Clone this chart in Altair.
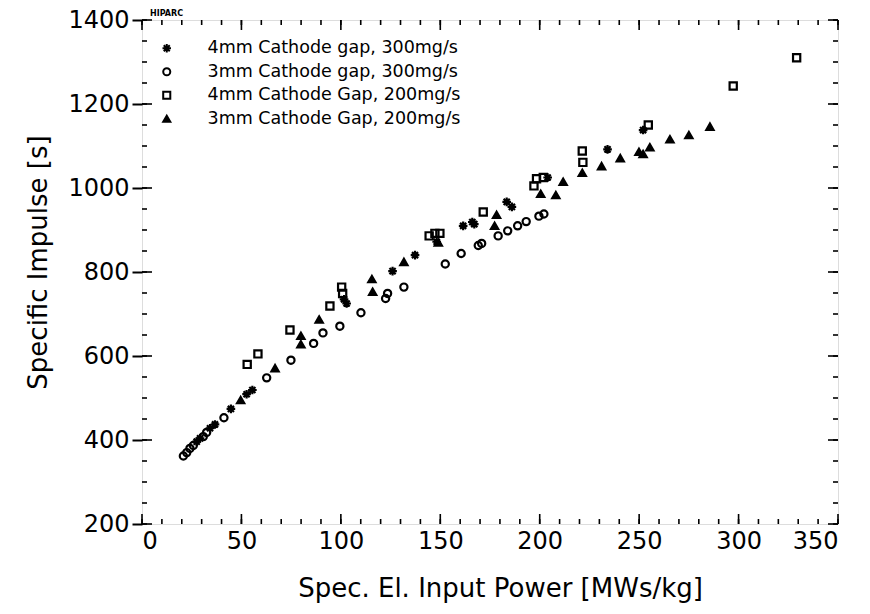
import altair as alt
import pandas as pd

S1 = "4mm Cathode gap, 300mg/s"
S2 = "3mm Cathode gap, 300mg/s"
S3 = "4mm Cathode Gap, 200mg/s"
S4 = "3mm Cathode Gap, 200mg/s"
series_names = [S1, S2, S3, S4]

ast_x = [27.5, 29.2, 34.2, 36.7, 44.7, 52.6, 55.5, 101.6, 102.9, 126.0, 137.3, 148.2, 161.5, 166.1, 167.1, 183.4, 186.0, 204.0, 234.1, 252.0]
ast_y = [396, 404, 428, 437, 474, 509, 519, 735, 725, 802, 840, 872, 910, 919, 914, 967, 955, 1025, 1092, 1138]

circ_x = [20.8, 22.5, 24.1, 25.8, 30.8, 32.5, 41.2, 62.7, 74.9, 86.3, 91.0, 99.5, 110.1, 122.5, 123.5, 131.7, 152.5, 160.5, 169.1, 170.8, 179.1, 183.9, 188.9, 193.2, 199.6, 202.1]
circ_y = [362, 370, 380, 387, 408, 418, 453, 548, 590, 630, 655, 671, 703, 737, 749, 764, 819, 844, 863, 868, 886, 898, 910, 920, 933, 938]

sq_x = [52.9, 58.3, 74.4, 94.5, 100.4, 100.9, 144.4, 147.3, 149.8, 171.6, 197.1, 198.4, 201.8, 221.4, 221.7, 254.6, 297.3, 329.2]
sq_y = [580, 605, 662, 719, 764, 749, 886, 892, 892, 943, 1005, 1022, 1025, 1088, 1061, 1150, 1243, 1310]

tri_x = [49.6, 66.9, 79.9, 79.9, 89.1, 115.6, 116.0, 131.7, 149.0, 177.3, 178.3, 200.5, 208.1, 211.8, 221.4, 231.1, 240.5, 249.9, 252.0, 255.4, 265.5, 275.0, 285.6]
tri_y = [495, 571, 628, 648, 687, 783, 753, 824, 870, 910, 936, 986, 983, 1015, 1036, 1052, 1071, 1086, 1081, 1097, 1116, 1126, 1146]

x_major = list(range(0, 351, 50))
x_minor = list(range(0, 351, 10))
y_major = list(range(200, 1401, 200))
y_minor = list(range(200, 1401, 50))

corner_label = ["HIPARC"]

rows = []
for name, xs_, ys_ in [(S1, ast_x, ast_y), (S2, circ_x, circ_y), (S3, sq_x, sq_y), (S4, tri_x, tri_y)]:
    for a, b in zip(xs_, ys_):
        rows.append({"series": name, "power": a, "isp": b})
df = pd.DataFrame(rows)

W, H = 696, 504
FONT = "DejaVu Sans"
xs = alt.Scale(domain=[0, 350], nice=False, zero=False)
ys = alt.Scale(domain=[200, 1400], nice=False, zero=False)

x_axis = alt.Axis(
    title="Spec. El. Input Power [MWs/kg]", values=x_major, format="d", ticks=False, domain=False, grid=False,
    labelFont=FONT, labelFontSize=24, labelColor="black", labelPadding=5,
    titleFont=FONT, titleFontSize=26, titleFontWeight="normal", titleColor="black",
    titleX=358, titleY=72, titleBaseline="alphabetic")
y_axis = alt.Axis(
    title="Specific Impulse [s]", values=y_major, format="d", ticks=True, tickSize=10, tickWidth=2, tickColor="black",
    domain=False, grid=False,
    labelFont=FONT, labelFontSize=24, labelColor="black", labelPadding=3,
    titleFont=FONT, titleFontSize=26, titleFontWeight="normal", titleColor="black",
    titleX=-96, titleY=242, titleBaseline="alphabetic")

asterisk = "M-1.2,0L1.2,0M0,-1.2L0,1.2M-0.85,-0.85L0.85,0.85M-0.85,0.85L0.85,-0.85"

leg = alt.Legend(title=None, orient="none", legendX=16, legendY=19.5, padding=0,
                 labelFont=FONT, labelFontSize=17.5, labelColor="black", labelOffset=32, labelLimit=500,
                 rowPadding=4.5, symbolSize=50, symbolStrokeWidth=2)

points = alt.Chart(df).mark_point(filled=True, strokeWidth=2.2, size=52, opacity=1).encode(
    x=alt.X("power:Q", scale=xs, axis=x_axis),
    y=alt.Y("isp:Q", scale=ys, axis=y_axis),
    shape=alt.Shape("series:N", scale=alt.Scale(domain=series_names, range=[asterisk, "circle", "square", "triangle-up"]),
                    legend=leg),
    fill=alt.Fill("series:N", scale=alt.Scale(domain=series_names, range=["black", "transparent", "transparent", "black"]),
                  legend=leg),
    stroke=alt.Stroke("series:N", scale=alt.Scale(domain=series_names, range=["black", "black", "black", "black"]),
                      legend=leg),
)

dxmin = pd.DataFrame({"v": x_minor})
dxmaj = pd.DataFrame({"v": x_major})
dymin = pd.DataFrame({"v": y_minor})
dymaj = pd.DataFrame({"v": y_major})

def xticks(d, length, top):
    if top:
        enc = dict(y=alt.value(0), y2=alt.value(length))
    else:
        enc = dict(y=alt.value(H), y2=alt.value(H - length))
    return alt.Chart(d).mark_rule(color="black", strokeWidth=1.6).encode(
        x=alt.X("v:Q", scale=xs, axis=x_axis), **enc)

def yticks(d, length, right):
    if right:
        enc = dict(x=alt.value(W), x2=alt.value(W - length))
    else:
        enc = dict(x=alt.value(0), x2=alt.value(length))
    return alt.Chart(d).mark_rule(color="black", strokeWidth=1.6).encode(
        y=alt.Y("v:Q", scale=ys, axis=y_axis), **enc)

ticks = [
    xticks(dxmin, 5, False), xticks(dxmaj, 10, False),
    xticks(dxmin, 5, True), xticks(dxmaj, 10, True),
    yticks(dymin, 5, False), yticks(dymaj, 10, False),
    yticks(dymin, 5, True), yticks(dymaj, 10, True),
]

corner = alt.Chart(pd.DataFrame({"t": corner_label})).mark_text(
    font=FONT, fontSize=8, fontWeight="bold", color="black", align="left", baseline="alphabetic"
).encode(text="t:N", x=alt.value(8), y=alt.value(-4))

chart = alt.layer(points, *ticks, corner).properties(
    width=W, height=H,
    padding={"left": 142, "top": 20, "right": 32, "bottom": 90},
    autosize=alt.AutoSizeParams(type="none"),
).configure_view(stroke="black", strokeWidth=2).configure(background="white")

chart.save("out.html", embed_options={"renderer": "svg", "actions": False})
